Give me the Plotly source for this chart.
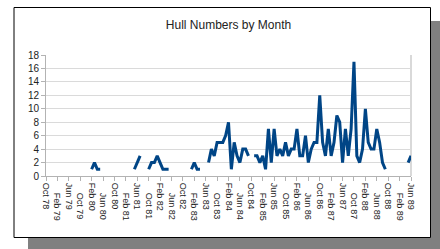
import plotly.graph_objects as go

# ---- data ----
month_names = ["Jan", "Feb", "Mar", "Apr", "May", "Jun", "Jul", "Aug", "Sep", "Oct", "Nov", "Dec"]
months = []
for k in range(129):
    m = (9 + k) % 12
    y = 78 + (9 + k) // 12
    months.append(f"{month_names[m]} {y:02d}")

N = None
hulls = [
    N, N, N, N, N, N, N, N, N, N, N, N, N, N, N, N,      # 0-15
    1, 2, 1, 1,                                          # 16-19
    N, N, N, N, N, N, N, N, N, N, N,                     # 20-30
    1, 2, 3,                                             # 31-33
    N, N,                                                # 34-35
    1, 2, 2, 3, 2, 1, 1, 1,                              # 36-43
    N, N, N, N, N, N, N,                                 # 44-50
    1, 2, 1, 1,                                          # 51-54
    N, N,                                                # 55-56
    2, 4, 3, 5, 5, 5, 6, 8, 1, 5, 3, 2, 4, 4, 3,         # 57-71
    N,                                                   # 72
    3, 3, 2, 3, 1, 7, 2, 7, 3, 4, 3, 5, 3, 4, 4,         # 73-87
    7, 3, 3, 6, 2, 4, 5, 5, 12, 5, 3, 7, 3, 5, 9,        # 88-102
    8, 2, 7, 3, 7, 17, 3, 2, 4, 10, 5, 4, 4, 7, 5,       # 103-117
    2, 1,                                                # 118-119
    N, N, N, N, N, N, N,                                 # 120-126
    2, 3,                                                # 127-128
]
tick_idx = list(range(0, 129, 4))
tick_text = [months[i] for i in tick_idx]
y_ticks = [0, 2, 4, 6, 8, 10, 12, 14, 16, 18]

# staggered labels: every second label pushed down with non-breaking spaces
stagger = "\u00a0" * 4
tick_text_staggered = [t if j % 2 == 0 else stagger + t for j, t in enumerate(tick_text)]

W, H = 440, 249
L, R, T, B = 46, 29, 55, 73
PW, PH = W - L - R, H - T - B

def px_x(px):
    return (px - L) / PW

def px_y(py):
    return (H - B - py) / PH

fig = go.Figure()
fig.add_trace(go.Scatter(
    x=list(range(len(hulls))), y=hulls, mode="lines",
    line=dict(color="#004586", width=3), connectgaps=False,
    hoverinfo="skip",
))

def rect(x0, y0, x1, y1, color):
    return dict(type="rect", xref="paper", yref="paper", layer="above",
                x0=px_x(x0), x1=px_x(x1), y0=px_y(y1), y1=px_y(y0),
                fillcolor=color, line=dict(width=0))

def line(x0, y0, x1, y1, color, w=1):
    return dict(type="line", xref="paper", yref="paper", layer="above",
                x0=px_x(x0), x1=px_x(x1), y0=px_y(y0), y1=px_y(y1),
                line=dict(color=color, width=w))

shapes = [
    # drop shadow (only the parts outside the frame)
    rect(430.5, 21, 441, 250, "#808080"),
    rect(28, 237.5, 441, 250, "#808080"),
    # frame border
    line(14, 7.5, 430.5, 7.5, "black"),
    line(14, 237.5, 430.5, 237.5, "black"),
    line(14, 7.5, 14, 237.5, "black"),
    line(430.5, 7.5, 430.5, 237.5, "black"),
    # right border of plot area
    dict(type="line", xref="paper", yref="paper", layer="below",
         x0=1, x1=1, y0=0, y1=1, line=dict(color="#b3b3b3", width=1)),
]

fig.update_layout(
    width=W, height=H,
    margin=dict(l=L, r=R, t=T, b=B, pad=0, autoexpand=False),
    paper_bgcolor="white", plot_bgcolor="white",
    showlegend=False,
    shapes=shapes,
    title=dict(text="Hull Numbers by Month", x=0.5, xref="paper", xanchor="center",
               y=1 - 25 / H, yref="container", yanchor="middle",
               font=dict(family="Liberation Sans", size=12, color="#222222")),
    font=dict(family="Liberation Sans", size=10, color="#222222"),
)
fig.update_xaxes(
    range=[0, 128], tickmode="array", tickvals=tick_idx, ticktext=tick_text_staggered,
    tickangle=90, ticks="outside", ticklen=4, tickcolor="#b3b3b3",
    showgrid=False, zeroline=False, showline=True, linecolor="#b3b3b3", linewidth=1,
    tickfont=dict(size=9, color="#222222"), automargin=False,
)
fig.update_yaxes(
    range=[0, 18], tickvals=y_ticks, ticks="outside", ticklen=4, tickcolor="#b3b3b3",
    showgrid=True, gridcolor="#dadada", gridwidth=1, zeroline=False,
    showline=True, linecolor="#b3b3b3", linewidth=1,
    tickfont=dict(size=10, color="#222222"), automargin=False,
)

fig.write_html("out.html", config={"displayModeBar": False},
               post_script="document.body.style.margin='0';")
